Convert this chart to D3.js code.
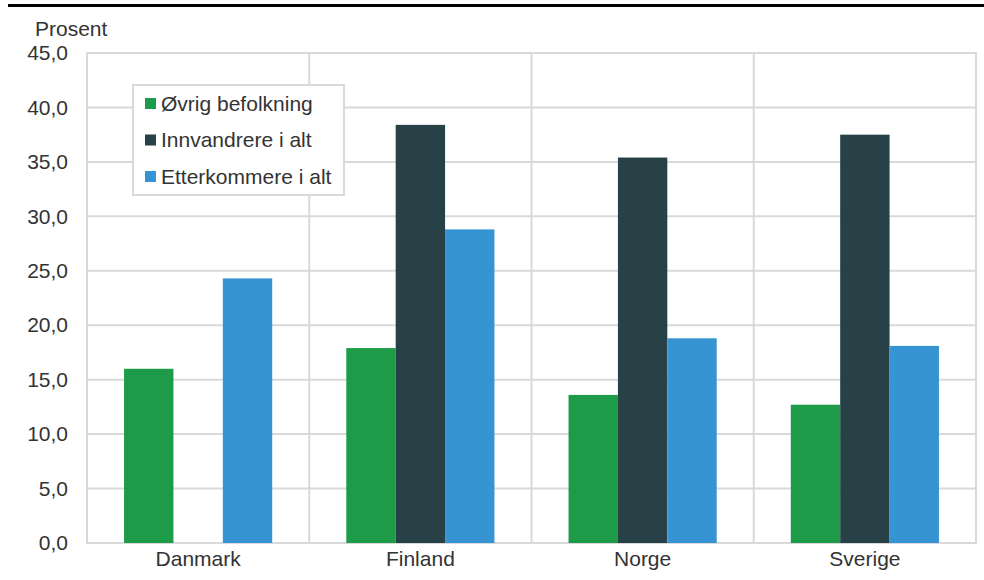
<!DOCTYPE html>
<html><head><meta charset="utf-8">
<script src="https://cdn.jsdelivr.net/npm/d3@7"></script>
<style>
html,body{margin:0;padding:0;background:#fff;}
svg{display:block;font-family:"Liberation Sans",Arial,sans-serif;}
</style></head>
<body>
<svg id="c" width="984" height="580"></svg>
<script>
const categories = ["Danmark", "Finland", "Norge", "Sverige"];
const seriesNames = ["Øvrig befolkning", "Innvandrere i alt", "Etterkommere i alt"];
const ovrig = [16.0, 17.9, 13.6, 12.7];
const innvandrere = [null, 38.4, 35.4, 37.5];
const etterkommere = [24.3, 28.8, 18.8, 18.1];
const colors = ["#1d9b48", "#274147", "#3594d1"];
const yTicks = [0, 5, 10, 15, 20, 25, 30, 35, 40, 45];
const yLabel = "Prosent";

const seriesValues = [ovrig, innvandrere, etterkommere];
const data = categories.map((c, i) => ({
  cat: c,
  vals: seriesNames.map((s, j) => ({ s, j, v: seriesValues[j][i] }))
}));

const svg = d3.select("#c");
const M = { left: 87, right: 976, top: 53, bottom: 543 };
const grid = "#d9d9d9";
const txt = "#333333";
const FS = 21;

// top black rule
svg.append("rect").attr("x", 8).attr("y", 4).attr("width", 976).attr("height", 3).attr("fill", "#000");

const x0 = d3.scaleBand().domain(categories).range([M.left, M.right]).padding(0);
const x1 = d3.scaleBand().domain(seriesNames).range([0, x0.bandwidth()]).paddingInner(0).paddingOuter(0.75);
const y = d3.scaleLinear().domain([0, 45]).range([M.bottom, M.top]);

// horizontal gridlines
svg.append("g").selectAll("line").data(yTicks).join("line")
  .attr("x1", M.left).attr("x2", M.right)
  .attr("y1", d => y(d)).attr("y2", d => y(d))
  .attr("stroke", grid).attr("stroke-width", 2);

// vertical separators
const seps = categories.map(c => x0(c)).concat([M.right]);
svg.append("g").selectAll("line").data(seps).join("line")
  .attr("x1", d => d).attr("x2", d => d)
  .attr("y1", M.top - 1).attr("y2", M.bottom + 1)
  .attr("stroke", grid).attr("stroke-width", 2);

// y axis labels
const fmt = d => d3.format(".1f")(d).replace(".", ",");
const yAxis = d3.axisLeft(y).tickValues(yTicks).tickFormat(fmt).tickSize(0).tickPadding(19);
const gy = svg.append("g").attr("transform", `translate(${M.left},0)`).call(yAxis);
gy.select(".domain").remove();
gy.selectAll("text").attr("font-size", FS).attr("fill", txt).attr("font-family", "Liberation Sans, Arial, sans-serif");

// x axis labels
const xAxis = d3.axisBottom(x0).tickSize(0).tickPadding(8);
const gx = svg.append("g").attr("transform", `translate(0,${M.bottom})`).call(xAxis);
gx.select(".domain").remove();
gx.selectAll("text").attr("font-size", FS).attr("fill", txt).attr("font-family", "Liberation Sans, Arial, sans-serif");

// bars
const groups = svg.append("g").selectAll("g").data(data).join("g")
  .attr("transform", d => `translate(${x0(d.cat)},0)`);
groups.selectAll("rect").data(d => d.vals.filter(v => v.v != null)).join("rect")
  .attr("x", d => x1(d.s)).attr("width", x1.bandwidth())
  .attr("y", d => y(d.v)).attr("height", d => y(0) - y(d.v))
  .attr("fill", d => colors[d.j]);

// y label
svg.append("text").attr("x", 35).attr("y", 36).attr("font-size", FS).attr("fill", txt).text(yLabel);

// legend
const lg = svg.append("g");
lg.append("rect").attr("x", 133).attr("y", 85).attr("width", 211).attr("height", 110)
  .attr("fill", "#fff").attr("stroke", grid).attr("stroke-width", 2);
const items = lg.selectAll("g.it").data(seriesNames).join("g").attr("class", "it")
  .attr("transform", (d, i) => `translate(145,${98 + i * 36.5})`);
items.append("rect").attr("width", 11).attr("height", 11).attr("fill", (d, i) => colors[i]);
items.append("text").attr("x", 16).attr("y", 12.5).attr("font-size", FS).attr("fill", txt).text(d => d);
</script>
</body></html>
